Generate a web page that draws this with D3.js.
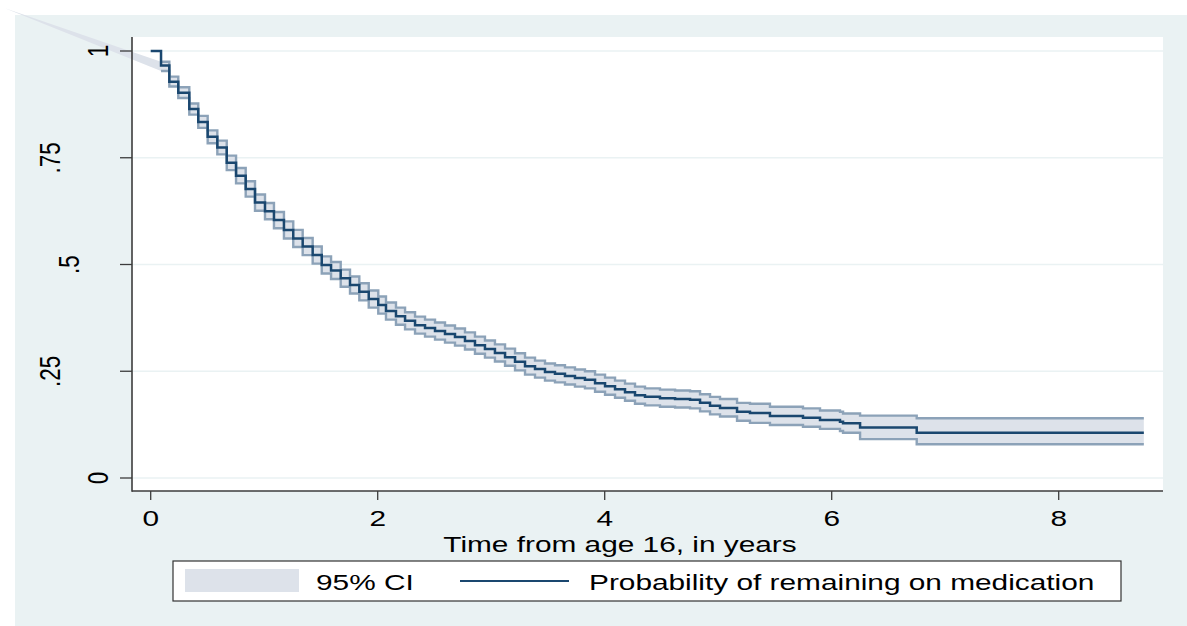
<!DOCTYPE html>
<html>
<head>
<meta charset="utf-8">
<script src="https://cdn.jsdelivr.net/npm/d3@7"></script>
<style>
  html, body { margin: 0; padding: 0; background: #ffffff; }
  svg { display: block; }
  text { font-family: "Liberation Sans", Arial, Helvetica, sans-serif; fill: #000; }
</style>
</head>
<body>
<svg id="chart" width="1187" height="626"></svg>
<script>
// ---- Data ----
const stepTimes = [0.000, 0.091, 0.164, 0.243, 0.340, 0.419, 0.502, 0.587, 0.670, 0.752,
  0.837, 0.919, 1.007, 1.086, 1.174, 1.256, 1.339, 1.427, 1.507, 1.589,
  1.674, 1.756, 1.838, 1.921, 2.005, 2.073, 2.161, 2.241, 2.329, 2.417,
  2.505, 2.593, 2.681, 2.769, 2.857, 2.945, 3.033, 3.122, 3.210, 3.298,
  3.386, 3.474, 3.562, 3.650, 3.738, 3.826, 3.915, 4.003, 4.091, 4.179,
  4.267, 4.355, 4.487, 4.620, 4.752, 4.840, 4.928, 5.016, 5.166, 5.280,
  5.456, 5.747, 5.897, 6.073, 6.100, 6.250, 6.749];
const survival = [1.000, 0.966, 0.928, 0.902, 0.864, 0.834, 0.799, 0.774, 0.738, 0.708,
  0.677, 0.645, 0.625, 0.604, 0.581, 0.561, 0.542, 0.522, 0.499, 0.486,
  0.468, 0.452, 0.436, 0.419, 0.405, 0.391, 0.379, 0.368, 0.358, 0.351,
  0.344, 0.337, 0.330, 0.321, 0.311, 0.302, 0.293, 0.283, 0.272, 0.262,
  0.255, 0.248, 0.244, 0.239, 0.234, 0.230, 0.222, 0.215, 0.208, 0.201,
  0.194, 0.190, 0.187, 0.185, 0.183, 0.176, 0.169, 0.164, 0.155, 0.152,
  0.145, 0.141, 0.136, 0.132, 0.128, 0.118, 0.106];
// 95% CI bounds (undefined at t = 0)
const ciLower = [null, 0.953, 0.917, 0.890, 0.851, 0.820, 0.784, 0.758, 0.721, 0.690,
  0.659, 0.626, 0.606, 0.585, 0.561, 0.541, 0.522, 0.502, 0.479, 0.466,
  0.448, 0.432, 0.416, 0.399, 0.385, 0.371, 0.359, 0.348, 0.338, 0.331,
  0.324, 0.317, 0.310, 0.301, 0.291, 0.282, 0.273, 0.263, 0.252, 0.242,
  0.235, 0.228, 0.224, 0.219, 0.214, 0.210, 0.202, 0.195, 0.188, 0.181,
  0.174, 0.170, 0.167, 0.165, 0.163, 0.156, 0.149, 0.144, 0.134, 0.129,
  0.124, 0.120, 0.115, 0.110, 0.106, 0.091, 0.079];
const ciUpper = [null, 0.975, 0.940, 0.915, 0.877, 0.848, 0.814, 0.790, 0.755, 0.726,
  0.695, 0.664, 0.644, 0.623, 0.601, 0.581, 0.562, 0.542, 0.519, 0.506,
  0.488, 0.472, 0.456, 0.439, 0.425, 0.411, 0.399, 0.388, 0.378, 0.371,
  0.364, 0.357, 0.350, 0.341, 0.331, 0.322, 0.313, 0.303, 0.292, 0.282,
  0.275, 0.268, 0.264, 0.259, 0.254, 0.250, 0.242, 0.235, 0.228, 0.221,
  0.214, 0.210, 0.207, 0.205, 0.203, 0.196, 0.190, 0.185, 0.176, 0.174,
  0.167, 0.163, 0.158, 0.155, 0.151, 0.146, 0.140];
const endTime = 8.75;
// stray first vertex of the CI area in the original (drawn outside the plot)
const ciOriginTime = -1.284;
const ciOriginValue = 1.10;

const xTicks = [0, 2, 4, 6, 8];
const yTicks = [0, 0.25, 0.5, 0.75, 1];
const yTickLabels = ["0", ".25", ".5", ".75", "1"];
const xTitle = "Time from age 16, in years";
const legendLabels = ["95% CI", "Probability of remaining on medication"];

// ---- Layout ----
const SX = 1.325;         // horizontal text stretch seen in the reference
const FS = 22.5;
const bg = "#eaf2f3";
const plot = { left: 132, right: 1163, top: 37, bottom: 491 };

const svg = d3.select("#chart");
svg.append("rect").attr("x", 0).attr("y", 0).attr("width", 1187).attr("height", 626).attr("fill", "#ffffff");
svg.append("rect").attr("x", 15).attr("y", 15).attr("width", 1172).attr("height", 611).attr("fill", bg);
svg.append("rect").attr("x", plot.left).attr("y", plot.top)
  .attr("width", plot.right - plot.left).attr("height", plot.bottom - plot.top).attr("fill", "#ffffff");

const x = d3.scaleLinear().domain([0, 8]).range([150.7, 1058.7]);
const y = d3.scaleLinear().domain([0, 1]).range([478, 51]);

// gridlines
svg.append("g").selectAll("line").data(yTicks).join("line")
  .attr("x1", plot.left).attr("x2", plot.right)
  .attr("y1", d => y(d)).attr("y2", d => y(d))
  .attr("stroke", bg).attr("stroke-width", 1.6);

// ---- CI band ----
const ciData = stepTimes.map((t, i) => ({ t, lo: ciLower[i], hi: ciUpper[i] })).filter(d => d.lo !== null);
ciData.push({ t: endTime, lo: ciLower[ciLower.length - 1], hi: ciUpper[ciUpper.length - 1] });

const bandFill = "#dde2ea";
const bandEdge = "#8ca2b8";

// stray wedge from origin vertex
const first = ciData[0];
svg.append("path")
  .attr("d", `M${x(ciOriginTime)},${y(ciOriginValue)}L${x(first.t)},${y(first.hi)}L${x(first.t)},${y(first.lo)}Z`)
  .attr("fill", bandFill);

const area = d3.area().curve(d3.curveStepAfter)
  .x(d => x(d.t)).y0(d => y(d.lo)).y1(d => y(d.hi));
svg.append("path").datum(ciData).attr("d", area).attr("fill", bandFill);

const loLine = d3.line().curve(d3.curveStepAfter).x(d => x(d.t)).y(d => y(d.lo));
const hiLine = d3.line().curve(d3.curveStepAfter).x(d => x(d.t)).y(d => y(d.hi));
svg.append("path").datum(ciData).attr("d", loLine).attr("fill", "none")
  .attr("stroke", bandEdge).attr("stroke-width", 2.4);
svg.append("path").datum(ciData).attr("d", hiLine).attr("fill", "none")
  .attr("stroke", bandEdge).attr("stroke-width", 2.4);

// ---- KM line ----
const kmData = stepTimes.map((t, i) => ({ t, s: survival[i] }));
kmData.push({ t: endTime, s: survival[survival.length - 1] });
const km = d3.line().curve(d3.curveStepAfter).x(d => x(d.t)).y(d => y(d.s));
svg.append("path").datum(kmData).attr("d", km).attr("fill", "none")
  .attr("stroke", "#1a476f").attr("stroke-width", 2.5);

// ---- Axes ----
const axisColor = "#3c3c3c";
svg.append("line").attr("x1", plot.left).attr("x2", plot.left)
  .attr("y1", plot.top).attr("y2", plot.bottom + 0.8).attr("stroke", axisColor).attr("stroke-width", 1.6);
svg.append("line").attr("x1", plot.left).attr("x2", plot.right)
  .attr("y1", plot.bottom).attr("y2", plot.bottom).attr("stroke", axisColor).attr("stroke-width", 1.6);

// y ticks + rotated labels
svg.append("g").selectAll("line").data(yTicks).join("line")
  .attr("x1", 120).attr("x2", plot.left).attr("y1", d => y(d)).attr("y2", d => y(d))
  .attr("stroke", axisColor).attr("stroke-width", 1.3);
const yLabelCenter = len => (len === 1 ? 97 : len === 2 ? 68 : 49);
svg.append("g").selectAll("text").data(yTicks).join("text")
  .attr("transform", (d, i) => `translate(${yLabelCenter(yTickLabels[i].length)},${y(d)}) scale(${SX},1) rotate(-90)`)
  .attr("text-anchor", "middle").attr("dy", "0.36em")
  .style("font-size", FS + "px")
  .text((d, i) => yTickLabels[i]);

// x ticks + labels
svg.append("g").selectAll("line").data(xTicks).join("line")
  .attr("x1", d => x(d)).attr("x2", d => x(d)).attr("y1", plot.bottom).attr("y2", plot.bottom + 9)
  .attr("stroke", axisColor).attr("stroke-width", 1.3);
svg.append("g").selectAll("text").data(xTicks).join("text")
  .attr("transform", d => `translate(${x(d)},525.5) scale(${SX},1)`)
  .attr("text-anchor", "middle").style("font-size", FS + "px")
  .text(d => d);

svg.append("text").attr("transform", `translate(620,551.5) scale(${SX},1)`)
  .attr("text-anchor", "middle").style("font-size", FS + "px").text(xTitle);

// ---- Legend ----
const lg = svg.append("g");
lg.append("rect").attr("x", 173).attr("y", 561).attr("width", 948).attr("height", 40)
  .attr("fill", "#ffffff").attr("stroke", "#333333").attr("stroke-width", 1.2);
lg.append("rect").attr("x", 185).attr("y", 569).attr("width", 114).attr("height", 23).attr("fill", bandFill);
lg.append("text").attr("transform", `translate(316,589.5) scale(${SX},1)`)
  .style("font-size", FS + "px").text(legendLabels[0]);
lg.append("line").attr("x1", 460).attr("x2", 569).attr("y1", 581).attr("y2", 581)
  .attr("stroke", "#1a476f").attr("stroke-width", 2);
lg.append("text").attr("transform", `translate(589,589.5) scale(${SX},1)`)
  .style("font-size", FS + "px").text(legendLabels[1]);
</script>
</body>
</html>
